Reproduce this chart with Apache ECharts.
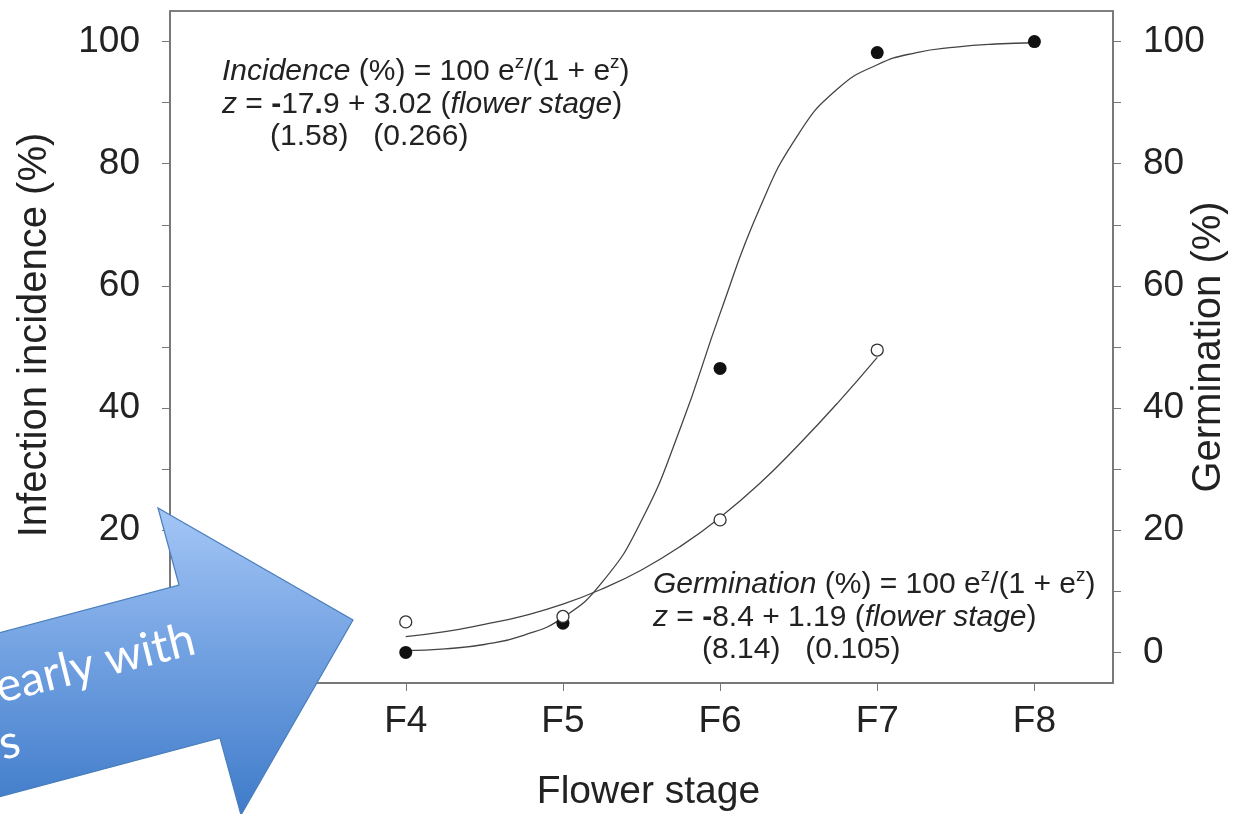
<!DOCTYPE html>
<html><head><meta charset="utf-8">
<script src="https://cdn.jsdelivr.net/npm/echarts@6/dist/echarts.min.js"></script>
<style>html,body{margin:0;padding:0;background:#fff}#c{width:1233px;height:814px}</style>
</head><body><div id="c"></div>
<script>
// ---- data ----
const stages = [4, 5, 6, 7, 8];
const stageLabels = ['F4', 'F5', 'F6', 'F7', 'F8'];
const incidencePts = [0, 4.8, 46.5, 98.2, 100];
const germStages = [4, 5, 6, 7];
const germinationPts = [5.0, 5.9, 21.7, 49.5];
// fitted curves as traced on the picture
const incCurveX = [4, 4.25, 4.5, 4.75, 5, 5.25, 5.5, 5.75, 6, 6.25, 6.5, 6.75, 7, 7.25, 7.5, 7.75, 8];
const incCurveY = [0.3, 0.6, 1.3, 2.8, 5.7, 11.5, 21.6, 36.9, 55.5, 72.6, 84.9, 92.3, 96.2, 98.2, 99.1, 99.6, 99.8];
const germCurveX = [4, 4.25, 4.5, 4.75, 5, 5.25, 5.5, 5.75, 6, 6.25, 6.5, 6.75, 7];
const germCurveY = [2.6, 3.4, 4.6, 6.0, 7.9, 10.4, 13.5, 17.4, 22.1, 27.6, 34.0, 40.9, 48.3];
const yTicks = [0, 10, 20, 30, 40, 50, 60, 70, 80, 90, 100];
const yLabels = [0, 20, 40, 60, 80, 100];
const xName = 'Flower stage';
const yLeftName = 'Infection incidence (%)';
const yRightName = 'Germination (%)';
const incEq = ['{i|Incidence} (%) = 100 e{s|z}/(1 + e{s|z})', '{i|z} = {b|-}17{b|.}9 + 3.02 ({i|flower stage})', '(1.58)   (0.266)'];
const germEq = ['{i|Germination} (%) = 100 e{s|z}/(1 + e{s|z})', '{i|z} = {b|-}8.4 + 1.19 ({i|flower stage})', '(8.14)   (0.105)'];
const arrowText = ['early with', 's'];

const FONT = '"Liberation Sans", Arial, sans-serif';
const TXT = '#222';
const AX = '#777';
const EQ_FS = 30;

function eqText(str, x, y) {
  return {
    type: 'text', x: x, y: y, z: 50,
    style: {
      text: str, fontSize: EQ_FS, fontFamily: FONT, fill: TXT, verticalAlign: 'middle', lineHeight: 38,
      rich: {
        i: { fontSize: EQ_FS, fontFamily: FONT, fontStyle: 'italic', fill: TXT, lineHeight: 38 },
        b: { fontSize: EQ_FS, fontFamily: FONT, fontWeight: 'bold', fill: TXT, lineHeight: 38 },
        s: { fontSize: 19, fontFamily: FONT, fill: TXT, verticalAlign: 'top', lineHeight: 20 }
      }
    }
  };
}

const chart = echarts.init(document.getElementById('c'));
const yAxisBase = (pos, name, gap, pad) => ({
  type: 'value', position: pos, min: -5, max: 105,
  name: name, nameLocation: 'middle', nameGap: gap, nameRotate: 90, nameMoveOverlap: false,
  nameTextStyle: { fontSize: 40, color: TXT, fontFamily: FONT, padding: pad },
  axisLine: { show: true, onZero: false, lineStyle: { color: AX, width: 1.5 } },
  splitLine: { show: false },
  axisTick: { show: true, customValues: yTicks, length: 8, lineStyle: { color: AX } },
  axisLabel: { customValues: yLabels, fontSize: 37, color: TXT, fontFamily: FONT, margin: 30 }
});

chart.setOption({
  animation: false,
  backgroundColor: '#fff',
  grid: { left: 170, right: 120, top: 11, bottom: 131, outerBoundsMode: 'none', containLabel: false,
    show: true, borderColor: '#555', borderWidth: 1.5 },
  xAxis: {
    type: 'value', min: 2.5, max: 8.5,
    name: xName, nameLocation: 'middle', nameGap: 90, nameMoveOverlap: false,
    nameTextStyle: { fontSize: 39, color: TXT, fontFamily: FONT, padding: [0, 0, 0, 14] },
    axisLine: { onZero: false, lineStyle: { color: AX, width: 1.5 } },
    splitLine: { show: false },
    axisTick: { customValues: stages, length: 8, lineStyle: { color: AX } },
    axisLabel: {
      customValues: stages, fontSize: 37, color: TXT, fontFamily: FONT, margin: 20,
      formatter: v => stageLabels[stages.indexOf(v)]
    }
  },
  yAxis: [yAxisBase('left', yLeftName, 115, [0, 0, 0, 24]), yAxisBase('right', yRightName, 76, 0)],
  series: [
    { type: 'line', yAxisIndex: 0, data: incCurveX.map((x, i) => [x, incCurveY[i]]), smooth: 0.5,
      showSymbol: false, lineStyle: { color: '#444', width: 1.3 }, z: 2 },
    { type: 'line', yAxisIndex: 1, data: germCurveX.map((x, i) => [x, germCurveY[i]]), smooth: 0.5,
      showSymbol: false, lineStyle: { color: '#444', width: 1.3 }, z: 2 },
    { type: 'scatter', yAxisIndex: 0, data: stages.map((x, i) => [x, incidencePts[i]]), symbolSize: 13,
      itemStyle: { color: '#111', opacity: 1 }, z: 3 },
    { type: 'scatter', yAxisIndex: 1, data: germStages.map((x, i) => [x, germinationPts[i]]), symbolSize: 12,
      itemStyle: { color: '#fff', borderColor: '#333', borderWidth: 1.3, opacity: 1 }, z: 4 }
  ],
  graphic: [
    eqText(incEq[0], 222, 72), eqText(incEq[1], 222, 105), eqText(incEq[2], 270, 137),
    eqText(germEq[0], 653, 585), eqText(germEq[1], 653, 618), eqText(germEq[2], 702, 650),
    {
      type: 'polygon', z: 100,
      shape: { points: [[-20, 638], [179, 585], [158, 508], [353, 620], [241, 815], [220, 738], [-20, 802]] },
      style: {
        fill: new echarts.graphic.LinearGradient(0, 0, 0, 1, [
          { offset: 0, color: '#a4c6f6' }, { offset: 0.5, color: '#6f9fe0' }, { offset: 1, color: '#3f7bc9' }
        ]),
        stroke: '#4a7ebb', lineWidth: 1.2
      }
    },
    { type: 'text', z: 101, x: 2, y: 711, rotation: 0.245,
      style: { text: arrowText[0], fontSize: 47, fontFamily: 'Lato, "Open Sans", sans-serif', fill: '#fff', verticalAlign: 'bottom' } },
    { type: 'text', z: 101, x: 5, y: 768, rotation: 0.245,
      style: { text: arrowText[1], fontSize: 47, fontFamily: 'Lato, "Open Sans", sans-serif', fill: '#fff', verticalAlign: 'bottom' } }
  ]
});
</script></body></html>
